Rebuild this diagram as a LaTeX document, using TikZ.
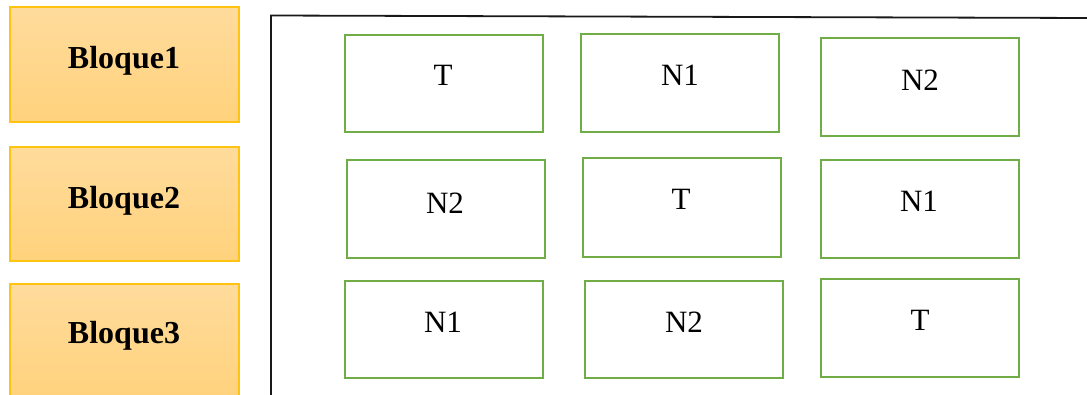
\documentclass[tikz,border=0pt]{standalone}
\usepackage{fontspec}
\setmainfont{Liberation Serif}
\definecolor{blkborder}{HTML}{FFC310}
\definecolor{blktop}{HTML}{FFDB9C}
\definecolor{blkbot}{HTML}{FFD27C}
\definecolor{cellgreen}{HTML}{70AD47}
\tikzset{
  blockbox/.style={draw=blkborder, line width=1.1pt, top color=blktop, bottom color=blkbot},
  blocktext/.style={font=\fontsize{32}{36}\selectfont\bfseries, inner sep=0pt, anchor=base},
  cellbox/.style={draw=cellgreen, line width=2.6pt, fill=white},
  celltext/.style={font=\fontsize{31}{35}\selectfont, inner sep=0pt, anchor=center},
  frameline/.style={draw=black!90, line width=1.8pt}
}
\begin{document}
\begin{tikzpicture}[x=1pt,y=-1pt]
\clip (0,0) rectangle (1087,394);
\fill[white] (0,0) rectangle (1087,394);

% left blocks
\path[blockbox] (10,7) rectangle (239,122);
\path[blockbox] (10,147) rectangle (239,261);
\path[blockbox] (10,284) rectangle (239,399);
\node[blocktext] (b1) at (124,68.3) {Bloque1};
\node[blocktext] (b2) at (124,208) {Bloque2};
\node[blocktext] (b3) at (124,343.3) {Bloque3};

% frame
\coordinate (fbl) at (271,400);
\coordinate (ftl) at (271,15.5);
\coordinate (ftr) at (1090,18);
\draw[frameline] (fbl) -- (ftl) -- (ftr);

% row 1
\path[cellbox] (345,35) rectangle (543,132);
\path[cellbox] (581,34) rectangle (779,132);
\path[cellbox] (821,38) rectangle (1019,136);
\node[celltext] (r1c1) at (443,75) {T};
\node[celltext] (r1c2) at (680,75) {N1};
\node[celltext] (r1c3) at (920,80) {N2};

% row 2
\path[cellbox] (347,160) rectangle (545,258);
\path[cellbox] (583,158) rectangle (781,257);
\path[cellbox] (821,160) rectangle (1019,258);
\node[celltext] (r2c1) at (445,203) {N2};
\node[celltext] (r2c2) at (681,199) {T};
\node[celltext] (r2c3) at (919,201) {N1};

% row 3
\path[cellbox] (345,281) rectangle (543,378);
\path[cellbox] (585,281) rectangle (783,378);
\path[cellbox] (821,279) rectangle (1019,377);
\node[celltext] (r3c1) at (443,322) {N1};
\node[celltext] (r3c2) at (684,322) {N2};
\node[celltext] (r3c3) at (920,320) {T};
\end{tikzpicture}
\end{document}
